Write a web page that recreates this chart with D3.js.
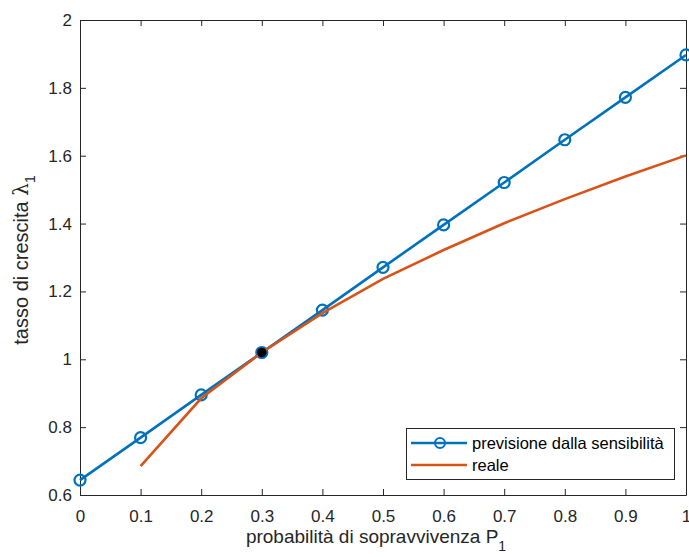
<!DOCTYPE html>
<html>
<head>
<meta charset="utf-8">
<script src="https://cdn.jsdelivr.net/npm/d3@7"></script>
<style>
  html, body { margin: 0; padding: 0; background: #fff; }
  svg { display: block; font-family: "Liberation Sans", Arial, Helvetica, sans-serif; }
</style>
</head>
<body>
<svg id="chart" width="689" height="557"></svg>
<script>
// Survival probability P1 and growth rate lambda1
const p1Values = [0, 0.1, 0.2, 0.3, 0.4, 0.5, 0.6, 0.7, 0.8, 0.9, 1.0];
const sensitivityPrediction = [0.644, 0.769, 0.895, 1.020, 1.145, 1.271, 1.396, 1.521, 1.647, 1.772, 1.897];
const realP1 = [0.1, 0.2, 0.3, 0.4, 0.5, 0.6, 0.7, 0.8, 0.9, 1.0];
const realGrowth = [0.685, 0.885, 1.020, 1.136, 1.237, 1.322, 1.401, 1.472, 1.539, 1.601];
const referencePoint = { p: 0.3, lambda: 1.020 };
const xTicks = [0, 0.1, 0.2, 0.3, 0.4, 0.5, 0.6, 0.7, 0.8, 0.9, 1];
const yTicks = [0.6, 0.8, 1, 1.2, 1.4, 1.6, 1.8, 2];
const seriesNames = ["previsione dalla sensibilità", "reale"];

const blue = "#0072BD", red = "#D95319", axisColor = "#262626";
const plotLeft = 80, plotRight = 686, plotTop = 20, plotBottom = 495;

const svg = d3.select("#chart");
const x = d3.scaleLinear().domain([0, 1]).range([plotLeft, plotRight]);
const y = d3.scaleLinear().domain([0.6, 2]).range([plotBottom, plotTop]);

const fmt = d => String(+d.toFixed(1));

// Axes with inward ticks on all four sides
const axisStyle = g => {
  g.selectAll("path").attr("stroke", axisColor).attr("stroke-width", 1);
  g.selectAll("line").attr("stroke", axisColor).attr("stroke-width", 1);
  g.selectAll("text").attr("fill", axisColor).style("font-size", "17px")
    .style("font-family", '"Liberation Sans", Arial, sans-serif');
};
svg.append("g").attr("transform", `translate(0,${plotBottom})`)
  .call(d3.axisBottom(x).tickValues(xTicks).tickFormat(fmt).tickSizeInner(-6).tickSizeOuter(0).tickPadding(15))
  .call(axisStyle);
svg.append("g").attr("transform", `translate(${plotLeft},0)`)
  .call(d3.axisLeft(y).tickValues(yTicks).tickFormat(fmt).tickSizeInner(-6).tickSizeOuter(0).tickPadding(8))
  .call(axisStyle);
svg.append("g").attr("transform", `translate(0,${plotTop})`)
  .call(d3.axisTop(x).tickValues(xTicks).tickFormat("").tickSizeInner(-6).tickSizeOuter(0))
  .call(axisStyle);
svg.append("g").attr("transform", `translate(${plotRight},0)`)
  .call(d3.axisRight(y).tickValues(yTicks).tickFormat("").tickSizeInner(-6).tickSizeOuter(0))
  .call(axisStyle);

// Axis labels
const xl = svg.append("text").attr("x", 376).attr("y", 543)
  .attr("text-anchor", "middle").attr("fill", axisColor).style("font-size", "19px");
xl.append("tspan").text("probabilità di sopravvivenza P");
xl.append("tspan").attr("dy", 8).style("font-size", "14px").text("1");

const yl = svg.append("text")
  .attr("transform", `translate(28,${260}) rotate(-90)`)
  .attr("text-anchor", "middle").attr("fill", axisColor).style("font-size", "20px");
yl.append("tspan").text("tasso di crescita ");
yl.append("tspan").style("font-family", '"DejaVu Serif", serif').text("λ");
yl.append("tspan").attr("dy", 7).style("font-size", "14px").text("1");

// Lines
const line = d3.line().x(d => x(d[0])).y(d => y(d[1]));
const predData = p1Values.map((p, i) => [p, sensitivityPrediction[i]]);
const realData = realP1.map((p, i) => [p, realGrowth[i]]);

const plot = svg.append("g");
plot.append("path").datum(predData).attr("d", line)
  .attr("fill", "none").attr("stroke", blue).attr("stroke-width", 2.6);
plot.selectAll("circle.pred").data(predData).join("circle").attr("class", "pred")
  .attr("cx", d => x(d[0])).attr("cy", d => y(d[1])).attr("r", 5.5)
  .attr("fill", "none").attr("stroke", blue).attr("stroke-width", 2.2);
plot.append("path").datum(realData).attr("d", line)
  .attr("fill", "none").attr("stroke", red).attr("stroke-width", 2.6);

// Reference point
plot.append("circle").attr("cx", x(referencePoint.p)).attr("cy", y(referencePoint.lambda))
  .attr("r", 4.8).attr("fill", "#000");

// Legend
const lg = svg.append("g");
lg.append("rect").attr("x", 406.5).attr("y", 428.5).attr("width", 268).attr("height", 51)
  .attr("fill", "#fff").attr("stroke", axisColor).attr("stroke-width", 1);
const rows = [{ c: blue, marker: true, yy: 443 }, { c: red, marker: false, yy: 465 }];
rows.forEach((r, i) => {
  lg.append("line").attr("x1", 411).attr("x2", 467).attr("y1", r.yy).attr("y2", r.yy)
    .attr("stroke", r.c).attr("stroke-width", 2.6);
  if (r.marker) lg.append("circle").attr("cx", 440).attr("cy", r.yy).attr("r", 5)
    .attr("fill", "none").attr("stroke", r.c).attr("stroke-width", 2);
  lg.append("text").attr("x", 472).attr("y", r.yy + 6).attr("fill", "#000")
    .style("font-size", "16.5px").text(seriesNames[i]);
});
</script>
</body>
</html>
